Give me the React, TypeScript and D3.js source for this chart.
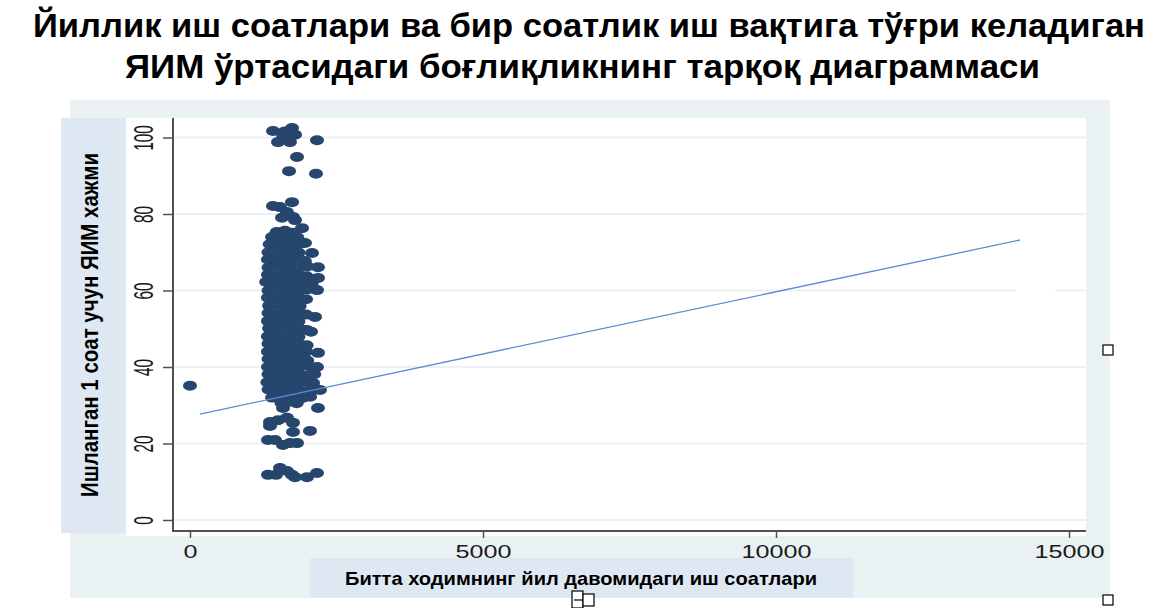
import React, { useEffect, useRef } from "react";
import * as d3 from "d3";

const titleLines = [
	"Йиллик иш соатлари ва бир соатлик иш вақтига тўғри келадиган",
	"ЯИМ ўртасидаги боғлиқликнинг тарқоқ диаграммаси",
];
const xAxisTitle = "Битта ходимнинг йил давомидаги иш соатлари";
const yAxisTitle = "Ишланган 1 соат учун ЯИМ хажми";

const xTicks = [0, 5000, 10000, 15000];
const yTicks = [0, 20, 40, 60, 80, 100];

// [hours per worker, GDP per hour]
const outlierPoints = [[0, 35.1]];

const topPoints = [
	[1416, 101.7], [1620, 101.6], [1741, 102.5], [1587, 100.7], [1792, 100.7],
	[1502, 98.8], [1706, 98.8], [2167, 99.3], [1826, 94.9], [1690, 91.2],
	[2150, 90.5],
];

const upperPoints = [
	[1416, 82.1], [1741, 83.1], [1536, 81.8], [1655, 80.5], [1570, 79.0],
	[1758, 79.2], [1792, 78.4], [1911, 76.3], [1962, 72.4], [2082, 69.8],
];

const clusterPoints = [
	[1480, 75.3], [1620, 75.6], [1760, 75.1],
	[1400, 74.0], [1540, 73.7], [1680, 74.2], [1830, 73.9],
	[1360, 72.1], [1490, 71.8], [1620, 72.3], [1750, 71.9], [1880, 72.2],
	[1340, 70.0], [1460, 70.3], [1590, 69.8], [1720, 70.2], [1850, 69.9],
	[1330, 68.1], [1450, 67.8], [1580, 68.2], [1700, 67.9], [1830, 68.3], [1960, 67.7],
	[1340, 66.0], [1470, 66.2], [1600, 65.8], [1730, 66.1], [1860, 65.9], [2000, 66.3],
	[1330, 64.1], [1460, 63.8], [1590, 64.2], [1720, 63.9], [1850, 64.0], [1990, 63.7],
	[1300, 62.2], [1440, 61.9], [1570, 62.1], [1700, 61.8], [1830, 62.3], [1960, 61.9], [2080, 62.0],
	[1340, 60.0], [1470, 60.2], [1600, 59.8], [1730, 60.1], [1860, 59.9], [2000, 60.3],
	[1330, 58.1], [1460, 57.8], [1590, 58.2], [1720, 57.9], [1850, 58.0], [1980, 57.7],
	[1350, 56.0], [1480, 56.2], [1610, 55.8], [1740, 56.1], [1870, 55.9],
	[1340, 54.1], [1470, 53.8], [1600, 54.2], [1730, 53.9], [1860, 54.0], [1980, 53.7],
	[1330, 52.0], [1460, 52.2], [1590, 51.8], [1720, 52.1], [1850, 51.9],
	[1350, 50.1], [1480, 49.8], [1610, 50.2], [1740, 49.9], [1870, 50.0], [1990, 49.7],
	[1330, 48.0], [1460, 48.2], [1590, 47.8], [1720, 48.1], [1850, 47.9],
	[1340, 46.1], [1470, 45.8], [1600, 46.2], [1730, 45.9], [1860, 46.0], [1990, 45.7],
	[1330, 44.0], [1460, 44.2], [1590, 43.8], [1720, 44.1], [1850, 43.9], [1980, 44.0],
	[1340, 42.1], [1470, 41.8], [1600, 42.2], [1730, 41.9], [1860, 42.0], [2000, 41.7],
	[1330, 40.0], [1460, 40.2], [1590, 39.8], [1720, 40.1], [1850, 39.9], [1990, 40.3], [2100, 39.8],
	[1340, 38.1], [1470, 37.8], [1600, 38.2], [1730, 37.9], [1860, 38.0], [2000, 37.7], [2120, 38.1],
	[1320, 36.0], [1450, 36.2], [1580, 35.8], [1710, 36.1], [1840, 35.9], [1970, 36.2], [2100, 35.8],
	[1340, 34.1], [1470, 33.8], [1600, 34.2], [1730, 33.9], [1860, 34.0], [2000, 33.7], [2130, 34.1],
	[1400, 32.0], [1530, 32.2], [1660, 31.8], [1790, 32.1], [1920, 31.9], [2050, 32.2],
	[1560, 30.6], [1690, 30.9], [1820, 30.5],
];

const rightPoints = [
	[2184, 66.1], [2184, 63.3], [2167, 60.1], [2133, 53.1], [2065, 49.2],
	[2184, 43.7], [2167, 40.0], [2218, 34.0],
];

const lowerPoints = [
	[1587, 29.3], [2184, 29.3],
	[1365, 25.6], [1365, 24.6], [1502, 26.1], [1655, 26.7], [1758, 25.4],
	[1758, 23.0], [2048, 23.3],
	[1331, 20.9], [1450, 20.9], [1587, 19.6], [1706, 20.1], [1826, 20.1],
	[1331, 11.8], [1467, 11.8], [1536, 13.6], [1655, 12.8], [1740, 11.8],
	[1792, 11.2], [1997, 11.2], [2167, 12.3],
];

// linear fit endpoints
const fitHours = [171, 14164];
const fitGdp = [27.7, 73.2];

const FONT = "'Liberation Sans', Arial, sans-serif";

const App: React.FC = () => {
	const svgRef = useRef<SVGSVGElement | null>(null);

	useEffect(() => {
		const svg = d3.select(svgRef.current);
		svg.selectAll("*").remove();

		const x = d3.scaleLinear().domain([0, 15000]).range([190, 1069]);
		const y = d3.scaleLinear().domain([0, 100]).range([520, 137.5]);

		// panels
		svg.append("rect").attr("x", 70).attr("y", 100).attr("width", 1040).attr("height", 498).attr("fill", "#eaf1f3");
		svg.append("rect").attr("x", 126).attr("y", 118).attr("width", 960).attr("height", 418).attr("fill", "#ffffff");
		svg.append("rect").attr("x", 61).attr("y", 118).attr("width", 65).attr("height", 415).attr("fill", "#dee8f3");
		svg.append("rect").attr("x", 310).attr("y", 558).attr("width", 543).attr("height", 40).attr("fill", "#dee8f3");

		// gridlines
		svg.append("g")
			.selectAll("line")
			.data(yTicks)
			.enter()
			.append("line")
			.attr("x1", 173)
			.attr("x2", 1086)
			.attr("y1", (d) => y(d))
			.attr("y2", (d) => y(d))
			.attr("stroke", "#e9f1f3")
			.attr("stroke-width", 2);

		svg.append("rect").attr("x", 1015).attr("y", y(60) - 2).attr("width", 40).attr("height", 4).attr("fill", "#ffffff");

		// points
		const allPoints = [
			...outlierPoints,
			...topPoints,
			...upperPoints,
			...clusterPoints,
			...rightPoints,
			...lowerPoints,
		];
		svg.append("g")
			.selectAll("ellipse")
			.data(allPoints)
			.enter()
			.append("ellipse")
			.attr("cx", (d) => x(d[0]))
			.attr("cy", (d) => y(d[1]))
			.attr("rx", 7)
			.attr("ry", 5)
			.attr("fill", "#26466d");

		// fitted line
		const fit = fitHours.map((h, i) => [h, fitGdp[i]] as [number, number]);
		svg.append("path")
			.datum(fit)
			.attr("d", d3.line<[number, number]>().x((d) => x(d[0])).y((d) => y(d[1])))
			.attr("fill", "none")
			.attr("stroke", "#5b8dd4")
			.attr("stroke-width", 1.3);

		// axes
		const yAxis = svg.append("g")
			.attr("transform", "translate(173,0)")
			.call(d3.axisLeft(y).tickValues(yTicks).tickSize(10).tickSizeOuter(0));
		yAxis.select(".domain").remove();
		yAxis.selectAll("line").attr("stroke", "#505050").attr("stroke-width", 1.5);
		yAxis.selectAll("text")
			.attr("x", 0)
			.attr("y", 0)
			.attr("dy", 0)
			.attr("text-anchor", "middle")
			.attr("transform", "translate(-20,0) rotate(-90) scale(0.55,1)")
			.attr("font-size", 28)
			.attr("font-family", FONT)
			.attr("fill", "#1a1a1a");

		const xAxis = svg.append("g")
			.attr("transform", "translate(0,531)")
			.call(d3.axisBottom(x).tickValues(xTicks).tickSize(7).tickSizeOuter(0).tickFormat(d3.format("d")));
		xAxis.select(".domain").remove();
		xAxis.selectAll("line").attr("stroke", "#505050").attr("stroke-width", 1.5);
		xAxis.selectAll("text")
			.attr("y", 0)
			.attr("dy", 0)
			.attr("text-anchor", "middle")
			.attr("transform", "translate(0,27) scale(1.4,1)")
			.attr("font-size", 18)
			.attr("font-family", FONT)
			.attr("fill", "#1a1a1a");

		svg.append("line").attr("x1", 173).attr("x2", 173).attr("y1", 118).attr("y2", 531).attr("stroke", "#505050").attr("stroke-width", 2);
		svg.append("line").attr("x1", 172).attr("x2", 1086).attr("y1", 531).attr("y2", 531).attr("stroke", "#505050").attr("stroke-width", 2);

		// titles
		const titleStarts = [33, 125];
		const titleLengths = [1112, 915];
		const titleBaselines = [37, 78];
		titleLines.forEach((line, i) => {
			svg.append("text")
				.attr("x", titleStarts[i])
				.attr("y", titleBaselines[i])
				.attr("textLength", titleLengths[i])
				.attr("lengthAdjust", "spacingAndGlyphs")
				.attr("font-size", 33)
				.attr("font-weight", "bold")
				.attr("font-family", FONT)
				.attr("fill", "#000")
				.text(line);
		});

		svg.append("text")
			.attr("transform", "translate(98,497) rotate(-90)")
			.attr("textLength", 344)
			.attr("lengthAdjust", "spacingAndGlyphs")
			.attr("font-size", 23)
			.attr("font-weight", "bold")
			.attr("font-family", FONT)
			.attr("fill", "#000")
			.text(yAxisTitle);

		svg.append("text")
			.attr("x", 345)
			.attr("y", 585)
			.attr("textLength", 472)
			.attr("lengthAdjust", "spacingAndGlyphs")
			.attr("font-size", 19)
			.attr("font-weight", "bold")
			.attr("font-family", FONT)
			.attr("fill", "#000")
			.text(xAxisTitle);

		// selection handles left over from the slide
		const handles = svg.append("g").attr("fill", "#fff").attr("stroke", "#000").attr("stroke-width", 1.2);
		handles.append("rect").attr("x", 1103).attr("y", 345).attr("width", 10).attr("height", 10);
		handles.append("rect").attr("x", 1103).attr("y", 595).attr("width", 10).attr("height", 10);
		handles.append("rect").attr("x", 572).attr("y", 591).attr("width", 11).attr("height", 17);
		handles.append("rect").attr("x", 583).attr("y", 594).attr("width", 11).attr("height", 12);
		handles.append("line").attr("x1", 574).attr("x2", 583).attr("y1", 600).attr("y2", 600);
	}, []);

	return (
		<svg
			ref={svgRef}
			width={1166}
			height={608}
			style={{ position: "absolute", left: 0, top: 0, background: "#fff" }}
		></svg>
	);
};

export default App;
